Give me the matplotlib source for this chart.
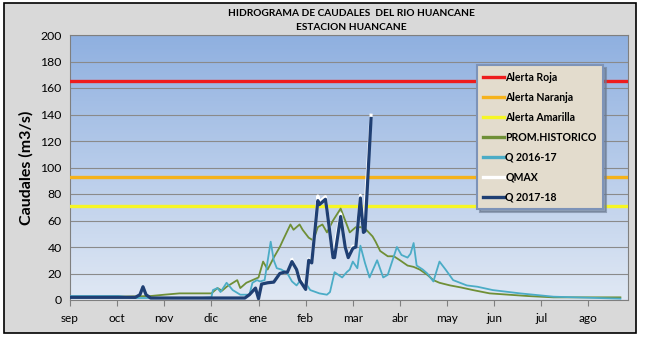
import matplotlib.pyplot as plt
import matplotlib.patches as mpatches
from matplotlib.colors import LinearSegmentedColormap
import numpy as np

# values (day index from 1 sep, caudal m3/s)
months = ["sep", "oct", "nov", "dic", "ene", "feb", "mar", "abr", "may", "jun", "jul", "ago"]

alerta_roja = 165
alerta_naranja = 92.5
alerta_amarilla = 71

prom_days = [0, 32, 53, 62, 72, 86, 93, 97, 100, 103, 110, 112, 116, 120, 124, 127, 130, 134,
             138, 140, 145, 147, 151, 153, 157, 160, 163, 166, 169, 173, 178, 180, 184, 188,
             191, 194, 199, 201, 204, 209, 213, 217, 222, 226, 230, 235, 239, 243, 250, 257,
             265, 276, 301, 318, 362]
prom_vals = [2, 2.5, 3, 4, 5, 5, 5, 9, 7, 10, 15, 9, 13, 15, 17, 29, 23, 32,
             40, 45, 57, 53, 57, 53, 47, 45, 55, 57, 51, 60, 69, 63, 51, 55,
             55, 54, 48, 44, 37, 33, 33, 30, 26, 25, 23, 19, 15, 13, 11, 9.5,
             7.5, 5, 3, 2, 2]

q1617_days = [0, 32, 43, 59, 86, 93, 94, 97, 99, 103, 107, 112, 118, 120, 123, 125, 128, 132,
              134, 136, 139, 143, 146, 149, 151, 156, 158, 164, 169, 171, 174, 179, 182, 184,
              186, 189, 191, 194, 197, 202, 206, 209, 215, 218, 222, 224, 226, 228, 232, 235,
              239, 243, 247, 252, 261, 268, 278, 296, 318, 362]
q1617_vals = [3, 3, 1.5, 1.5, 1.5, 2, 7.5, 9, 6, 13, 7.5, 4, 4, 13, 15, 14, 15, 44,
              30, 24, 23, 20, 14, 11, 14, 11, 7.5, 5, 4, 6, 21, 17, 21, 23,
              29, 24, 41, 28, 17, 30, 17, 19, 40, 34, 32, 35, 43, 26, 23, 20,
              14, 29, 23, 15, 11, 10, 7.5, 5, 2.5, 1]

qmax_days = [146, 149, 155, 157, 159, 163, 164, 168, 169, 173, 178, 181, 183, 186, 188, 191, 193, 198]
qmax_vals = [30.5, 22, 8, 31, 28.5, 78.5, 74, 78, 69, 33, 65, 41, 33, 40.5, 41, 79, 52, 139.5]

q1718_days = [0, 32, 43, 46, 48, 50, 53, 86, 115, 118, 122, 124, 126, 130, 134, 138, 141, 143,
              146, 149, 151, 155, 157, 159, 163, 164, 168, 169, 173, 174, 178, 181, 183, 186,
              188, 191, 193, 194, 198]
q1718_vals = [2, 2, 2, 4, 10, 4, 1.5, 1.5, 1.5, 4, 9, 1, 12, 13, 13.5, 20, 21, 21,
              29, 23, 15, 8, 30, 28, 75, 72, 76, 68, 32, 32, 63, 40, 32, 39,
              40, 77, 51, 52, 137]

fig = plt.figure(figsize=(6.45, 3.41), dpi=100)
fig.patch.set_facecolor("white")
# grey chart area with black border
fig.patches.append(mpatches.Rectangle((4 / 645, 8 / 341), 632 / 645, 330 / 341,
                                      transform=fig.transFigure, facecolor="#d9d9d9",
                                      edgecolor="black", linewidth=1.2, zorder=-5))

ax = fig.add_axes([70 / 645, 41 / 341, 558 / 645, 265 / 341])
ax.set_xlim(0, 367)
ax.set_ylim(0, 200)

cmap = LinearSegmentedColormap.from_list("bg", ["#e0e8f4", "#8fb0e0"])
ax.imshow(np.linspace(0, 1, 256).reshape(-1, 1), extent=[0, 367, 0, 200], aspect="auto",
          cmap=cmap, origin="lower", zorder=0)

ax.set_yticks(range(0, 201, 20))
ax.yaxis.grid(True, color="#8a8a8a", linewidth=0.8)
ax.set_axisbelow(True)
for s in ax.spines.values():
    s.set_color("#7f7f7f")
    s.set_linewidth(0.8)

ax.axhline(alerta_roja, color="#ee1c1c", linewidth=2.4, label="Alerta Roja", zorder=3)
ax.axhline(alerta_naranja, color="#f5b21a", linewidth=2.4, label="Alerta Naranja", zorder=3)
ax.axhline(alerta_amarilla, color="#f6f624", linewidth=2.4, label="Alerta Amarilla", zorder=3)
ax.plot(prom_days, prom_vals, color="#6f8f36", linewidth=1.3, label="PROM.HISTORICO", zorder=4)
ax.plot(q1617_days, q1617_vals, color="#4bacc6", linewidth=1.3, label="Q 2016-17", zorder=4)
ax.plot(qmax_days, qmax_vals, color="white", linewidth=2.2, label="QMAX", zorder=5)
ax.plot(q1718_days, q1718_vals, color="#1f3f73", linewidth=2.3, label="Q 2017-18", zorder=6)

ax.set_xticks([i * 31 for i in range(12)])
ax.set_xticklabels(months)
ax.tick_params(axis="x", length=4, color="#7f7f7f", labelsize=8.5, pad=5)
ax.tick_params(axis="y", length=0, labelsize=8.8, pad=6)
for lbl in ax.get_xticklabels() + ax.get_yticklabels():
    lbl.set_fontfamily("Lato")

ax.set_ylabel("Caudales (m3/s)", fontsize=11.5, fontweight="bold", family="Lato", labelpad=5)

fig.text(351 / 645, 1 - 14 / 341, "HIDROGRAMA DE CAUDALES  DEL RIO HUANCANE",
         ha="center", va="center", fontsize=7.3, fontweight="bold", family="Lato")
fig.text(351 / 645, 1 - 28 / 341, "ESTACION HUANCANE",
         ha="center", va="center", fontsize=7.3, fontweight="bold", family="Lato")

leg = ax.legend(loc="upper left", bbox_to_anchor=(0.729, 0.885), frameon=True, fancybox=False,
                shadow={"ox": 2, "oy": -2, "color": "#6b7a90", "alpha": 0.6},
                prop={"family": "Lato", "weight": "bold", "size": 7.6},
                labelspacing=0.85, handlelength=2.0, handletextpad=0.1, borderpad=0.6,
                borderaxespad=0)
leg.get_frame().set_facecolor("#e3dccd")
leg.get_frame().set_edgecolor("#7d93b8")
leg.get_frame().set_linewidth(1.5)
leg.get_frame().set_alpha(1)
leg.set_zorder(10)
for line in leg.get_lines():
    line.set_linewidth(2.4)

plt.savefig("out.png", dpi=100)
